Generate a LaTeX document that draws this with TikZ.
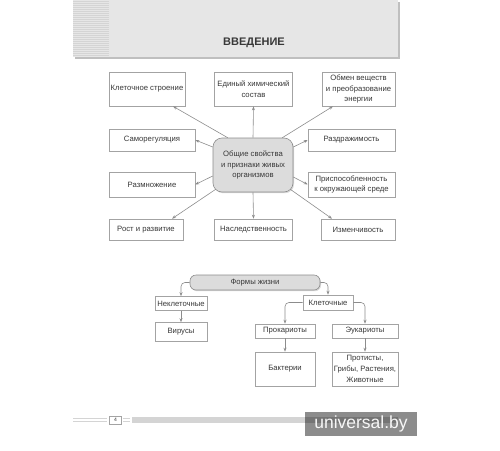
\documentclass[tikz,border=0pt]{standalone}
\usepackage{fontspec}
\setmainfont{Liberation Sans}
\usetikzlibrary{arrows.meta,shadows}
\definecolor{linegray}{HTML}{8C8C8C}
\definecolor{boxgray}{HTML}{A3A3A3}
\definecolor{panelgray}{HTML}{E6E6E6}
\definecolor{stripegray}{HTML}{D4D4D4}
\definecolor{fillgray}{HTML}{DCDCDC}
\definecolor{textgray}{HTML}{383838}

\begin{document}
\begin{tikzpicture}[x=1pt,y=-1pt,
  box/.style={draw=boxgray,line width=0.6pt,fill=white,inner sep=0pt,align=center,
    font=\fontsize{7.7}{10.7}\selectfont,text=textgray},
  hub/.style={box,draw=linegray,fill=fillgray,rounded corners=9pt,
    drop shadow={shadow xshift=1pt,shadow yshift=-1.2pt,fill=gray!60}},
  arr/.style={draw=linegray,line width=0.6pt,-{Stealth[length=4pt,width=3pt]}},
]
\useasboundingbox (0,0) rectangle (500,450);

% shapka stranicy
\fill[gray!50] (74.5,1.5) rectangle (399.5,58.5);
\fill[panelgray] (73,0) rectangle (398,57);
\foreach \y in {1.5,3.5,...,56}
  \draw[stripegray,line width=0.6pt] (73,\y) -- (109,\y);
\node[font=\bfseries\fontsize{11}{13}\selectfont,text=textgray] (title) at (254,42.5) {ВВЕДЕНИЕ};

% obshchie svoistva
\node[hub,minimum width=80pt,minimum height=54pt] (c) at (253,165) {Общие свойства\\и признаки живых\\организмов};
\node[box,minimum width=76pt,minimum height=34pt] (kl) at (147,89) {Клеточное строение};
\node[box,minimum width=78pt,minimum height=34pt] (ed) at (253.5,89) {Единый химический\\состав};
\node[box,minimum width=73pt,minimum height=34pt] (ob) at (358.5,89) {Обмен веществ\\и преобразование\\энергии};
\node[box,minimum width=86pt,minimum height=22pt] (sr) at (152,140) {Саморегуляция};
\node[box,minimum width=87pt,minimum height=22pt] (rz) at (351.5,140) {Раздражимость};
\node[box,minimum width=86pt,minimum height=25pt] (rm) at (152,184.5) {Размножение};
\node[box,minimum width=87pt,minimum height=25pt] (pr) at (351.5,184.5) {Приспособленность\\к окружающей среде};
\node[box,minimum width=74pt,minimum height=21pt] (rost) at (146,229.5) {Рост и развитие};
\node[box,minimum width=78pt,minimum height=21pt] (ns) at (253.5,229.5) {Наследственность};
\node[box,minimum width=74pt,minimum height=21pt] (iz) at (358,229.5) {Изменчивость};

\draw[arr] ([xshift=15pt]c.north west) -- ([xshift=26pt]kl.south);
\draw[arr] (c.north) -- (ed.south);
\draw[arr] ([xshift=-11pt]c.north east) -- ([xshift=-25.5pt]ob.south);
\draw[arr] ([yshift=18pt]c.west) -- (sr.east);
\draw[arr] ([yshift=18pt]c.east) -- (rz.west);
\draw[arr] ([yshift=-11pt]c.west) -- (rm.east);
\draw[arr] ([yshift=-12pt]c.east) -- (pr.west);
\draw[arr] ([xshift=3pt,yshift=3pt]c.south west) -- ([xshift=26pt]rost.north);
\draw[arr] (c.south) -- (ns.north);
\draw[arr] ([xshift=-3pt,yshift=3pt]c.south east) -- ([xshift=-26pt]iz.north);

% formy zhizni
\node[hub,rounded corners=6pt,minimum width=130pt,minimum height=15pt] (fz) at (255,282.5) {Формы жизни};
\node[box,minimum width=52pt,minimum height=14pt] (nk) at (181,303.5) {Неклеточные};
\node[box,minimum width=52pt,minimum height=19pt] (vr) at (181,332) {Вирусы};
\node[box,minimum width=50pt,minimum height=15pt] (kt) at (328,302.5) {Клеточные};
\node[box,minimum width=60pt,minimum height=14pt] (pk) at (285,331) {Прокариоты};
\node[box,minimum width=66pt,minimum height=14pt] (ek) at (365,331) {Эукариоты};
\node[box,minimum width=60pt,minimum height=34pt] (bk) at (285,369) {Бактерии};
\node[box,minimum width=66pt,minimum height=34pt] (pt) at (365,369) {Протисты,\\Грибы, Растения,\\Животные};

\draw[arr,rounded corners=4pt] (fz.west) -| (nk.north);
\draw[arr,rounded corners=4pt] (fz.east) -| (kt.north);
\draw[arr,rounded corners=4pt] (kt.west) -| (pk.north);
\draw[arr,rounded corners=4pt] (kt.east) -| (ek.north);
\draw[arr] (nk.south) -- (vr.north);
\draw[arr] (pk.south) -- (bk.north);
\draw[arr] (ek.south) -- (pt.north);

% nizhnii kolontitul
\foreach \y in {418.7,421}
  \draw[stripegray,line width=0.5pt] (73,\y) -- (107,\y) (123,\y) -- (130,\y);
\node[draw=boxgray,fill=white,line width=0.5pt,minimum width=12pt,minimum height=7.5pt,inner sep=0pt,
  font=\fontsize{5}{6}\selectfont,text=textgray] (pg) at (115.5,420) {4};
\fill[stripegray] (131.5,417) rectangle (398,423);
\node[fill=black,fill opacity=0.45,text opacity=1,text=white!94!gray,minimum width=112pt,minimum height=24pt,
  inner sep=0pt,font=\fontsize{17.5}{20}\selectfont] (wm) at (361,424) {universal.by};
\end{tikzpicture}
\end{document}
